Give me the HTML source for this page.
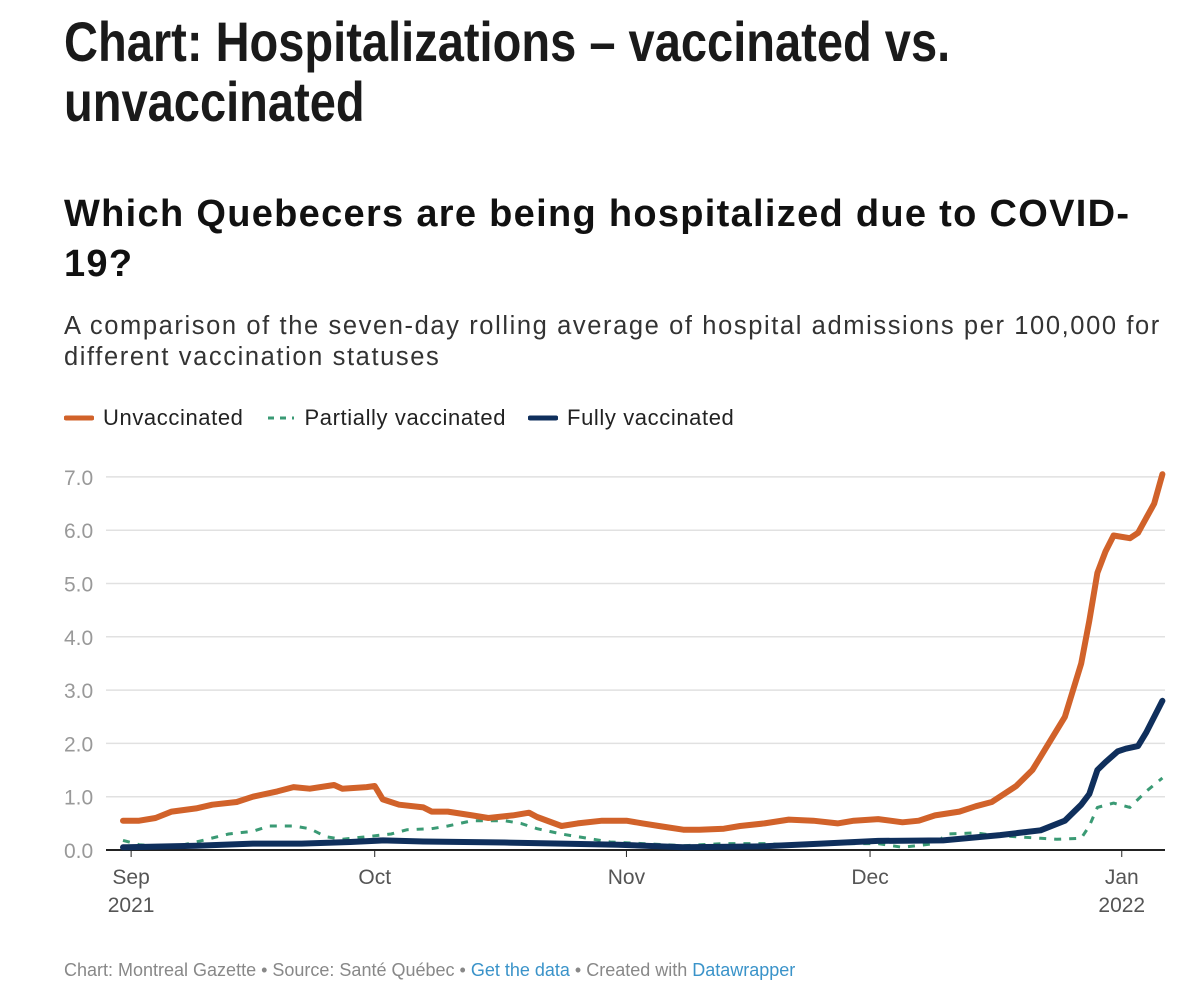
<!DOCTYPE html>
<html><head><meta charset="utf-8"><style>
body{margin:0;width:1200px;height:1001px;background:#fff;font-family:"Liberation Sans",sans-serif;position:relative;overflow:hidden}
.t{position:absolute;left:64px;margin:0;white-space:nowrap}
#title{top:12px;font-weight:bold;font-size:56px;line-height:60px;color:#1a1a1a;transform:scaleX(0.84);transform-origin:left top}
#sub{top:189px;font-weight:bold;font-size:38px;line-height:50px;color:#111;letter-spacing:1.3px}
#desc{top:311px;font-size:25.5px;line-height:31px;color:#333;letter-spacing:1.6px}
#legend{top:405px;font-size:22px;color:#222;display:flex;align-items:center;letter-spacing:0.6px}
.li{display:flex;align-items:center;gap:9px;margin-right:22px}
#foot{top:960px;font-size:18px;color:#888}
#foot a{color:#3a93c9;text-decoration:none}
</style></head><body>
<h1 class="t" id="title">Chart: Hospitalizations – vaccinated vs.<br>unvaccinated</h1>
<h2 class="t" id="sub">Which Quebecers are being hospitalized due to COVID-<br>19?</h2>
<p class="t" id="desc">A comparison of the seven-day rolling average of hospital admissions per 100,000 for<br>different vaccination statuses</p>
<div class="t" id="legend">
<span class="li"><svg width="30" height="8"><line x1="2" y1="4" x2="28" y2="4" stroke="#d1622a" stroke-width="5" stroke-linecap="round"/></svg>Unvaccinated</span>
<span class="li"><svg width="30" height="8"><line x1="2" y1="4" x2="28" y2="4" stroke="#3a9a74" stroke-width="3" stroke-dasharray="6,6"/></svg>Partially vaccinated</span>
<span class="li"><svg width="30" height="8"><line x1="2" y1="4" x2="28" y2="4" stroke="#0f2f5c" stroke-width="5" stroke-linecap="round"/></svg>Fully vaccinated</span>
</div>
<svg id="chart" width="1200" height="1001" style="position:absolute;left:0;top:0"></svg>
<p class="t" id="foot">Chart: Montreal Gazette • Source: Santé Québec • <a>Get the data</a> • Created with <a>Datawrapper</a></p>
<script>
const yTicks=[0,1,2,3,4,5,6,7];
const xTickDays=[1,31,62,92,123];
const xTickLabels=["Sep","Oct","Nov","Dec","Jan"];
const xTickYears=["2021","","","","2022"];
const unvaxDays=[0,2,4,6,9,11,14,16,19,21,23,26,27,30,31,32,34,37,38,40,43,45,48,50,51,54,56,59,62,64,66,69,71,74,76,79,82,85,88,90,93,96,98,100,103,105,107,110,112,113,116,118,119,120,121,122,124,125,127,128];
const unvaxVals=[0.55,0.55,0.6,0.72,0.78,0.85,0.9,1.0,1.1,1.18,1.15,1.22,1.15,1.18,1.2,0.95,0.85,0.8,0.72,0.72,0.65,0.6,0.65,0.7,0.62,0.45,0.5,0.55,0.55,0.5,0.45,0.38,0.38,0.4,0.45,0.5,0.57,0.55,0.5,0.55,0.58,0.52,0.55,0.65,0.72,0.82,0.9,1.2,1.5,1.75,2.5,3.5,4.3,5.2,5.6,5.9,5.85,5.95,6.5,7.05];
const fullDays=[0,9,16,22,28,32,37,47,54,61,69,79,86,93,101,108,113,116,118,119,120,121,122.5,123.5,125,126,128];
const fullVals=[0.05,0.08,0.12,0.12,0.15,0.18,0.16,0.14,0.12,0.1,0.05,0.07,0.12,0.17,0.18,0.28,0.37,0.55,0.85,1.05,1.5,1.65,1.85,1.9,1.95,2.2,2.8];
const partDays=[0,2,6,9,13,16,18,21,23,25,27,30,33,35,38,40,43,47,49,51,54,56,60,64,69,74,79,84,88,93,96,100,101.5,105,107,110,113,115,118,119,120,122,124,126,128];
const partVals=[0.18,0.1,0.05,0.15,0.3,0.35,0.45,0.45,0.4,0.25,0.2,0.25,0.3,0.38,0.4,0.45,0.55,0.55,0.5,0.4,0.3,0.25,0.15,0.12,0.08,0.12,0.12,0.08,0.12,0.12,0.05,0.12,0.3,0.32,0.28,0.25,0.22,0.2,0.22,0.45,0.8,0.88,0.8,1.1,1.35];
const NS="http://www.w3.org/2000/svg";
const svg=document.getElementById('chart');
const x=d=>123+d*8.12, y=v=>850-v*53.3;
function mk(t,a){const e=document.createElementNS(NS,t);for(const k in a)e.setAttribute(k,a[k]);svg.appendChild(e);return e;}
yTicks.forEach(v=>{
 const g=mk('line',{x1:106,x2:1165,y1:y(v),y2:y(v),stroke:v===0?'#222':'#e1e1e1','stroke-width':v===0?2:1.5});
 
 
 const t=mk('text',{x:64,y:y(v)+8,'font-size':21,fill:'#999','font-family':'Liberation Sans, sans-serif'});t.textContent=v.toFixed(1);
 
 
});
xTickDays.forEach((d,i)=>{
 const l=mk('line',{x1:x(d),x2:x(d),y1:851,y2:857,stroke:'#222','stroke-width':1});
 
 
 const t=mk('text',{x:x(d),y:884,'font-size':21,fill:'#555','text-anchor':'middle','font-family':'Liberation Sans, sans-serif'});t.textContent=xTickLabels[i];
 
 
 if(xTickYears[i]){const t2=mk('text',{x:x(d),y:912,'font-size':21,fill:'#555','text-anchor':'middle','font-family':'Liberation Sans, sans-serif'});t2.textContent=xTickYears[i];
 
 }
});
function line(days,vals,attrs,name){
 const p=mk('path',Object.assign({d:days.map((d,i)=>(i?'L':'M')+x(d).toFixed(1)+','+y(vals[i]).toFixed(1)).join(''),fill:'none','stroke-linejoin':'round','stroke-linecap':'round'},attrs));
 
 
}
line(partDays,partVals,{stroke:'#3a9a74','stroke-width':3,'stroke-dasharray':'7,8','stroke-linecap':'butt'},'partially-vaccinated-line');
line(fullDays,fullVals,{stroke:'#0f2f5c','stroke-width':6},'fully-vaccinated-line');
line(unvaxDays,unvaxVals,{stroke:'#d1622a','stroke-width':6},'unvaccinated-line');
</script>
</body></html>
